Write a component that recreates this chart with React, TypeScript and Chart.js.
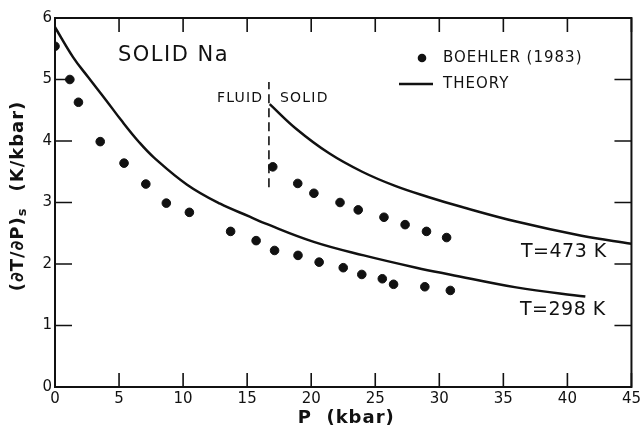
import React, { useEffect, useRef } from "react";
import { Chart, registerables } from "chart.js";

Chart.register(...registerables);

// Boehler (1983) measurements, T = 298 K branch
const b298P = [0, 1.16, 1.83, 3.53, 5.39, 7.09, 8.69, 10.49, 13.71, 15.7, 17.14, 18.97, 20.62, 22.5, 23.95, 25.55, 26.43, 28.87, 30.86];
const b298S = [5.54, 5.0, 4.63, 3.99, 3.64, 3.3, 2.99, 2.84, 2.53, 2.38, 2.22, 2.14, 2.03, 1.94, 1.83, 1.76, 1.67, 1.63, 1.57];
// Boehler (1983) measurements, T = 473 K branch
const b473P = [17.0, 18.95, 20.21, 22.25, 23.67, 25.68, 27.33, 29.0, 30.57];
const b473S = [3.58, 3.31, 3.15, 3.0, 2.88, 2.76, 2.64, 2.53, 2.43];
// Theory curves
const th298P = [0, 1.42, 2.58, 4.0, 5.16, 6.57, 7.73, 10.31, 12.89, 15.2, 16.4, 20.2, 24.1, 28.2, 30.8, 36.0, 41.4];
const th298S = [5.85, 5.36, 5.04, 4.66, 4.34, 3.98, 3.73, 3.29, 2.98, 2.77, 2.66, 2.36, 2.14, 1.94, 1.83, 1.62, 1.47];
const th473P = [16.76, 18.82, 21.4, 23.98, 26.55, 29.13, 31.71, 36.0, 41.1, 45];
const th473S = [4.6, 4.2, 3.8, 3.5, 3.27, 3.09, 2.93, 2.69, 2.46, 2.33];
// Fluid/solid boundary
const boundaryP = [16.7, 16.7];
const boundaryS = [3.25, 4.96];

const xTicks = [0, 5, 10, 15, 20, 25, 30, 35, 40, 45];
const yTicks = [0, 1, 2, 3, 4, 5, 6];

const pts = (xs: number[], ys: number[]) => xs.map((x, i) => ({ x, y: ys[i] }));

const FONT = "'DejaVu Sans', sans-serif";
const INK = "#111";

const framePlugin = {
  id: "frame",
  afterDraw(chart: any) {
    const { ctx, chartArea: a, scales } = chart;
    const xs = scales.x;
    const ys = scales.y;
    ctx.save();
    ctx.strokeStyle = INK;
    ctx.lineWidth = 2;
    ctx.strokeRect(a.left, a.top, a.right - a.left, a.bottom - a.top);
    ctx.lineWidth = 1.6;
    ctx.beginPath();
    xTicks.forEach((v) => {
      const px = xs.getPixelForValue(v);
      ctx.moveTo(px, a.bottom);
      ctx.lineTo(px, a.bottom - 14);
      ctx.moveTo(px, a.top);
      ctx.lineTo(px, a.top + 14);
    });
    yTicks.forEach((v) => {
      const py = ys.getPixelForValue(v);
      ctx.moveTo(a.left, py);
      ctx.lineTo(a.left + 17, py);
      ctx.moveTo(a.right, py);
      ctx.lineTo(a.right - 17, py);
    });
    ctx.stroke();

    ctx.fillStyle = INK;
    ctx.textBaseline = "middle";
    ctx.textAlign = "left";

    // Titles inside plot
    ctx.font = `21px ${FONT}`;
    ctx.letterSpacing = "1.5px";
    ctx.fillText("SOLID Na", 118, 56);
    ctx.font = `14px ${FONT}`;
    ctx.letterSpacing = "1.2px";
    ctx.fillText("FLUID", 217, 98);
    ctx.fillText("SOLID", 280, 98);
    ctx.font = `19px ${FONT}`;
    ctx.letterSpacing = "0.5px";
    ctx.fillText("T=473 K", 521, 252);
    ctx.fillText("T=298 K", 520, 310);

    // Legend
    ctx.font = `15px ${FONT}`;
    ctx.letterSpacing = "1px";
    ctx.beginPath();
    ctx.arc(422, 58, 4.3, 0, Math.PI * 2);
    ctx.fill();
    ctx.fillText("BOEHLER (1983)", 443, 58);
    ctx.lineWidth = 2.5;
    ctx.beginPath();
    ctx.moveTo(399, 84);
    ctx.lineTo(433, 84);
    ctx.stroke();
    ctx.fillText("THEORY", 443, 84);

    // X axis title
    ctx.textAlign = "center";
    ctx.font = `bold 18px ${FONT}`;
    ctx.letterSpacing = "1px";
    ctx.fillText("P  (kbar)", (a.left + a.right) / 2 + 3, 418);

    // Y axis title with subscript
    ctx.translate(18, 196);
    ctx.rotate(-Math.PI / 2);
    ctx.textAlign = "left";
    const main = "(∂T/∂P)";
    const sub = "s";
    const unit = "(K/kbar)";
    ctx.font = `bold 18px ${FONT}`;
    const wMain = ctx.measureText(main).width;
    const wUnit = ctx.measureText(unit).width;
    ctx.font = `bold 13px ${FONT}`;
    const wSub = ctx.measureText(sub).width;
    const gap = 16;
    const total = wMain + wSub + gap + wUnit;
    let cx = -total / 2;
    ctx.font = `bold 18px ${FONT}`;
    ctx.fillText(main, cx, 0);
    cx += wMain;
    ctx.font = `bold 13px ${FONT}`;
    ctx.fillText(sub, cx, 5);
    cx += wSub + gap;
    ctx.font = `bold 18px ${FONT}`;
    ctx.fillText(unit, cx, 0);
    ctx.restore();
  },
};

export default function App() {
  const ref = useRef<HTMLCanvasElement | null>(null);
  useEffect(() => {
    document.body.style.margin = "0";
    const canvas = ref.current!;
    const chart = new Chart(canvas, {
      type: "scatter",
      data: {
        datasets: [
          {
            label: "BOEHLER (1983) 298",
            data: pts(b298P, b298S),
            backgroundColor: INK,
            borderColor: INK,
            pointRadius: 4.3,
            showLine: false,
          },
          {
            label: "BOEHLER (1983) 473",
            data: pts(b473P, b473S),
            backgroundColor: INK,
            borderColor: INK,
            pointRadius: 4.3,
            showLine: false,
          },
          {
            label: "THEORY 298",
            data: pts(th298P, th298S),
            borderColor: INK,
            borderWidth: 2.5,
            pointRadius: 0,
            showLine: true,
            tension: 0.4,
          },
          {
            label: "THEORY 473",
            data: pts(th473P, th473S),
            borderColor: INK,
            borderWidth: 2.5,
            pointRadius: 0,
            showLine: true,
            tension: 0.4,
          },
          {
            label: "boundary",
            data: pts(boundaryP, boundaryS),
            borderColor: INK,
            borderWidth: 1.6,
            borderDash: [9, 5],
            pointRadius: 0,
            showLine: true,
          },
        ],
      },
      options: {
        animation: false,
        responsive: false,
        devicePixelRatio: 1,
        layout: { padding: { top: 18, right: 7, left: 0, bottom: 0 } },
        plugins: { legend: { display: false }, tooltip: { enabled: false } },
        scales: {
          x: {
            type: "linear",
            min: 0,
            max: 45,
            afterFit: (s: any) => { s.height = 43; },
            afterBuildTicks: (s: any) => { s.ticks = xTicks.map((v) => ({ value: v })); },
            grid: { display: false, drawTicks: false },
            border: { display: false },
            ticks: { color: INK, font: { family: FONT, size: 15 }, padding: 3, maxRotation: 0, autoSkip: false },
          },
          y: {
            type: "linear",
            min: 0,
            max: 6,
            afterFit: (s: any) => { s.width = 55; },
            afterBuildTicks: (s: any) => { s.ticks = yTicks.map((v) => ({ value: v })); },
            grid: { display: false, drawTicks: false },
            border: { display: false },
            ticks: { color: INK, font: { family: FONT, size: 15 }, padding: 3 },
          },
        },
      },
      plugins: [framePlugin],
    } as any);
    return () => chart.destroy();
  }, []);
  return (
    <div style={{ width: 644, height: 430, background: "#fff" }}>
      <canvas ref={ref} width={644} height={430} />
    </div>
  );
}
